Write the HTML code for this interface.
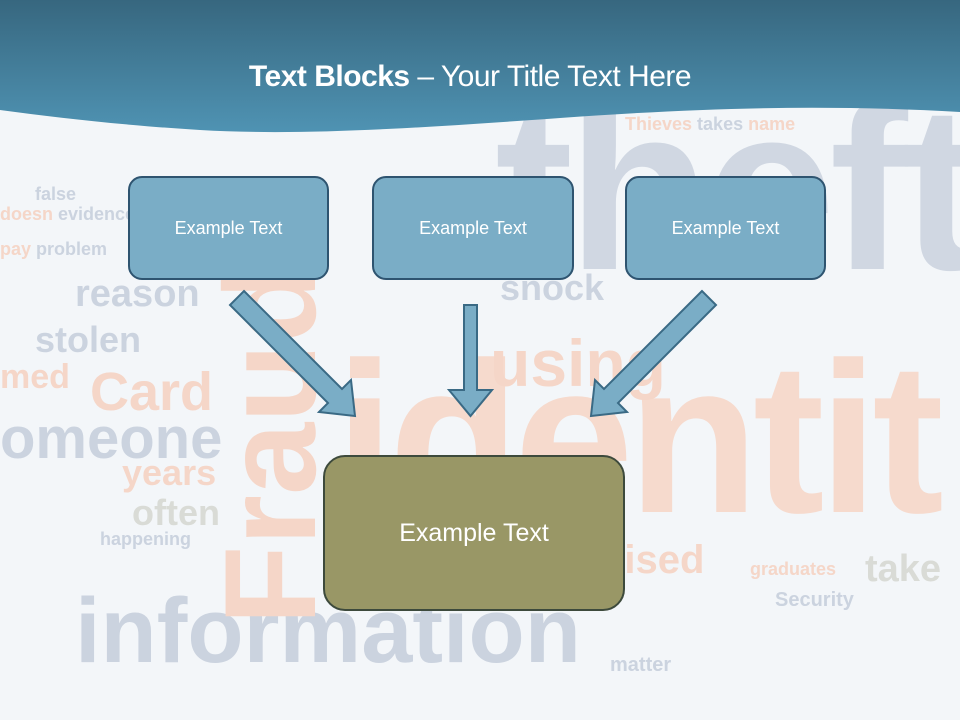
<!DOCTYPE html>
<html><head><style>
body{margin:0}
#s{position:relative;width:960px;height:720px;overflow:hidden;background:#f3f6f9;font-family:"Liberation Sans",sans-serif}
.w{position:absolute;font-weight:bold;white-space:nowrap;line-height:1}
.g{color:#cbd3df}.p{color:#f5d6c8}.d{color:#d9dbd6}
.box{position:absolute;box-sizing:border-box;border:2px solid #2e5470;border-radius:14px;background:#7aadc6;color:#fff;display:flex;align-items:center;justify-content:center;font-size:18px}
</style></head><body><div id="s">
<div class="w g" style="left:495px;top:70px;font-size:235px;letter-spacing:-6px;color:#d0d7e2">theft</div>
<div class="w p" style="left:335px;top:330px;font-size:215px;letter-spacing:-6px;color:#f6dacd">identit</div>
<div class="w g" style="left:75px;top:585px;font-size:92px">information</div>
<div class="w p" style="left:205px;top:625px;font-size:130px;transform:rotate(-90deg);transform-origin:0 0">Fraud</div>
<div class="w g" style="left:0px;top:410px;font-size:58px">omeone</div>
<div class="w p" style="left:90px;top:365px;font-size:54px">Card</div>
<div class="w g" style="left:75px;top:275px;font-size:38px">reason</div>
<div class="w g" style="left:35px;top:322px;font-size:36px">stolen</div>
<div class="w p" style="left:0px;top:360px;font-size:34px">med</div>
<div class="w p" style="left:122px;top:455px;font-size:36px">years</div>
<div class="w d" style="left:132px;top:495px;font-size:36px">often</div>
<div class="w p" style="left:490px;top:330px;font-size:66px">using</div>
<div class="w g" style="left:500px;top:270px;font-size:36px">snock</div>
<div class="w p" style="left:600px;top:540px;font-size:40px">nised</div>
<div class="w d" style="left:865px;top:550px;font-size:38px">take</div>
<div class="w p" style="left:625px;top:115px;font-size:18px">Thieves <span class="g">takes</span> name</div>
<div class="w g" style="left:100px;top:530px;font-size:18px">happening</div>
<div class="w p" style="left:0px;top:240px;font-size:18px">pay <span class="g">problem</span></div>
<div class="w g" style="left:35px;top:185px;font-size:18px">false</div>
<div class="w p" style="left:0px;top:205px;font-size:18px">doesn <span class="g">evidence</span></div>
<div class="w g" style="left:775px;top:590px;font-size:20px">Security</div>
<div class="w p" style="left:750px;top:560px;font-size:18px">graduates</div>
<div class="w g" style="left:610px;top:655px;font-size:20px">matter</div>
<svg style="position:absolute;left:0;top:0" width="960" height="720">
<defs><linearGradient id="h" x1="0" y1="0" x2="0" y2="1"><stop offset="0" stop-color="#37677f"/><stop offset="1" stop-color="#4f93b3"/></linearGradient></defs>
<path d="M0 0H960V112C820 104 700 108 560 118C420 128 300 136 200 130C120 125 60 118 0 110Z" fill="url(#h)"/>
<g fill="#7aadc6" stroke="#3a6a85" stroke-width="2" stroke-linejoin="miter">
<path d="M244 291L342 389L351 380L355 416L319 412L328 403L230 305Z"/>
<path d="M464 305H477V390H492L470.5 416L449 390H464Z"/>
<path d="M702 291L604 389L595 380L591 416L627 412L618 403L716 305Z"/>
</g>
</svg>
<div style="position:absolute;left:0;top:60px;width:940px;text-align:center;color:#fff;font-size:30px;letter-spacing:-0.5px"><b>Text Blocks</b> – Your Title Text Here</div>
<div class="box" style="left:128px;top:176px;width:201px;height:104px">Example Text</div>
<div class="box" style="left:372px;top:176px;width:202px;height:104px">Example Text</div>
<div class="box" style="left:625px;top:176px;width:201px;height:104px">Example Text</div>
<div class="box" style="left:323px;top:455px;width:302px;height:156px;background:#999766;border-color:#3d4a3c;border-radius:22px;font-size:25px">Example Text</div>
</div></body></html>
